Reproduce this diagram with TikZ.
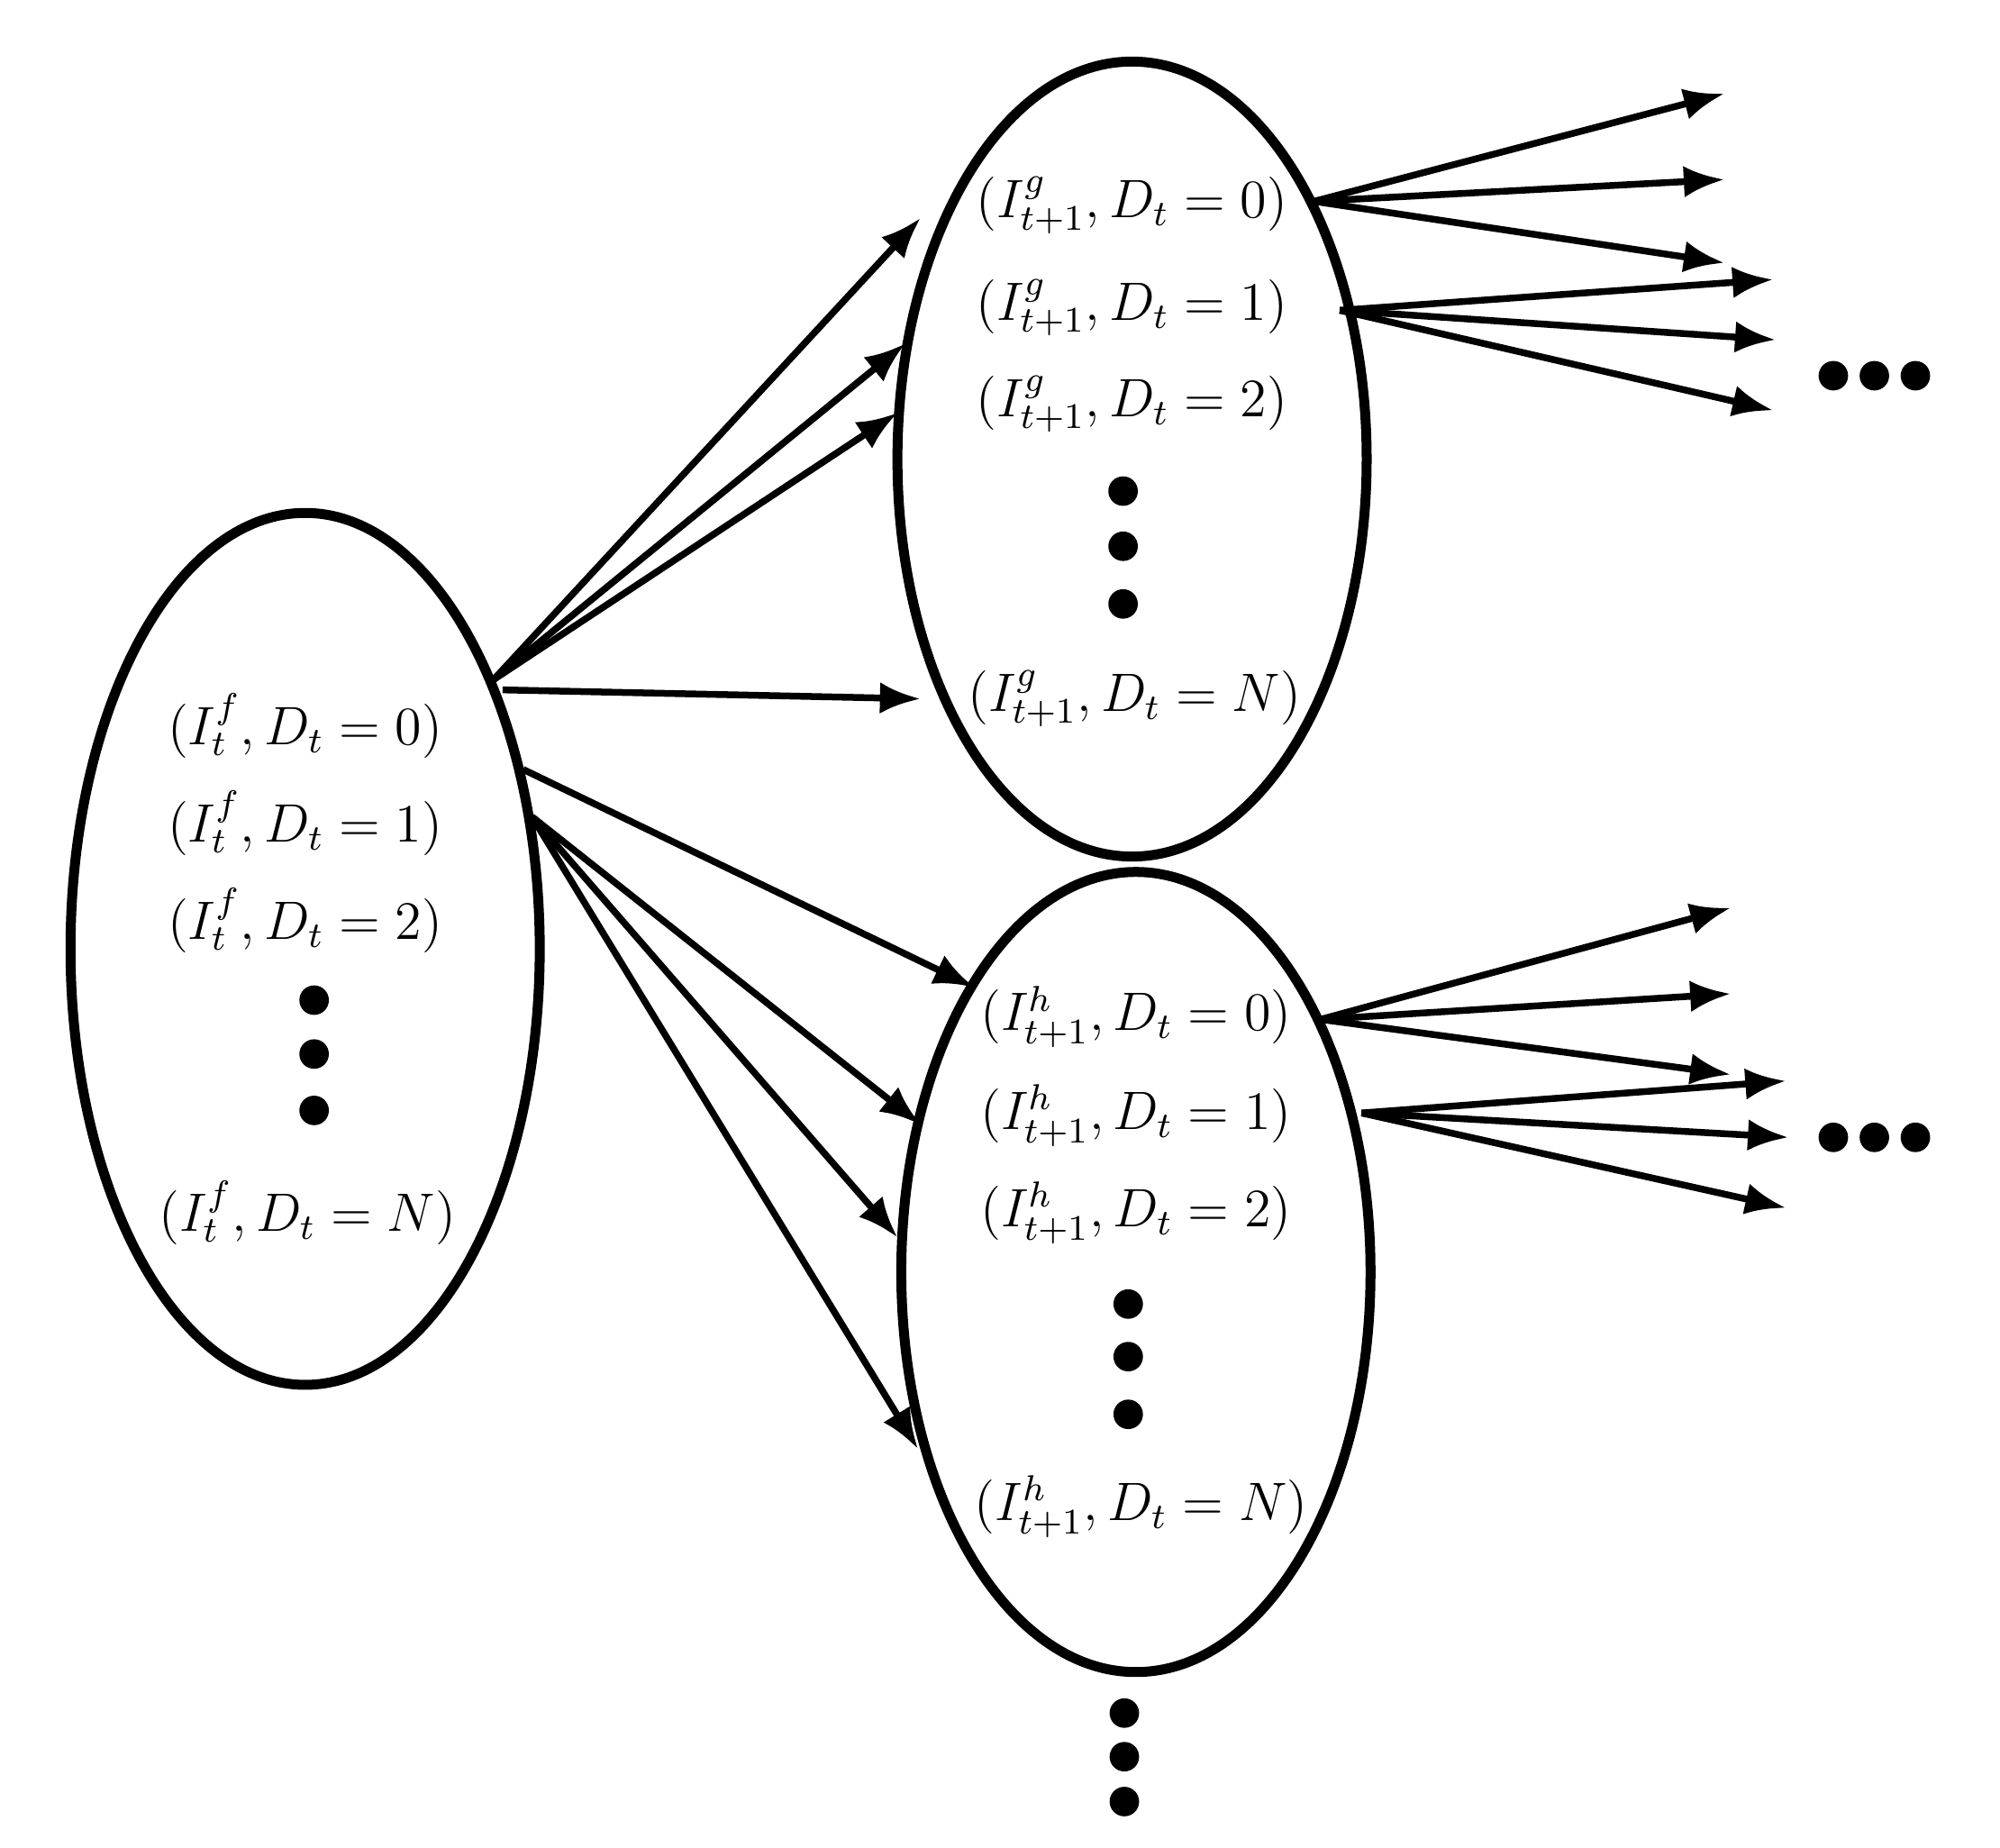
\documentclass[tikz,border=0pt]{standalone}
\usetikzlibrary{arrows.meta}
\begin{document}
\begin{tikzpicture}[x=0.01cm,y=-0.01cm,
  arr/.style={line width=1.5pt,-{Latex[length=9pt,width=7pt]}},
  dot/.style={circle,fill,inner sep=0pt,minimum size=0.23cm},
  lbl/.style={font=\large,inner sep=0pt}]
\useasboundingbox (0,0) rectangle (1560,1441);
\draw[line width=2.2pt] (238,740) ellipse [x radius=183,y radius=340];
\draw[line width=2.2pt] (883,358) ellipse [x radius=183,y radius=310];
\draw[line width=2.2pt] (886,992) ellipse [x radius=183,y radius=312];
% left labels
\node[lbl] (f0) at (238,566) {$(I_t^f,D_t=0)$};
\node[lbl] (f1) at (238,642) {$(I_t^f,D_t=1)$};
\node[lbl] (f2) at (238,718) {$(I_t^f,D_t=2)$};
\node[dot] (fd1) at (245,780) {};\node[dot] (fd2) at (245,822) {};\node[dot] (fd3) at (245,866) {};
\node[lbl] (fN) at (240,946) {$(I_t^f,D_t=N)$};
% g labels
\node[lbl] (g0) at (883,160) {$(I_{t+1}^g,D_t=0)$};
\node[lbl] (g1) at (883,240) {$(I_{t+1}^g,D_t=1)$};
\node[lbl] (g2) at (883,315) {$(I_{t+1}^g,D_t=2)$};
\node[dot] (gd1) at (876,383) {};\node[dot] (gd2) at (876,426) {};\node[dot] (gd3) at (876,471) {};
\node[lbl] (gN) at (885,545) {$(I_{t+1}^g,D_t=N)$};
% h labels
\node[lbl] (h0) at (886,793) {$(I_{t+1}^h,D_t=0)$};
\node[lbl] (h1) at (886,870) {$(I_{t+1}^h,D_t=1)$};
\node[lbl] (h2) at (886,946) {$(I_{t+1}^h,D_t=2)$};
\node[dot] (hd1) at (880,1017) {};\node[dot] (hd2) at (880,1058) {};\node[dot] (hd3) at (880,1103) {};
\node[lbl] (hN) at (890,1175) {$(I_{t+1}^h,D_t=N)$};
% other dots
\node[dot] (b1) at (877,1336) {};\node[dot] (b2) at (877,1370) {};\node[dot] (b3) at (877,1405) {};
\node[dot] (r1) at (1430,293) {};\node[dot] (r2) at (1462,293) {};\node[dot] (r3) at (1494,293) {};
\node[dot] (s1) at (1430,887) {};\node[dot] (s2) at (1462,887) {};\node[dot] (s3) at (1494,887) {};
% coordinates
\coordinate (a) at (385,530); \coordinate (a2) at (392,538);
\coordinate (b) at (408,600); \coordinate (c) at (415,637);
\coordinate (ga) at (1025,157); \coordinate (gb) at (1045,242);
\coordinate (ha) at (1030,795); \coordinate (hb) at (1062,868);
\foreach \n/\x/\y in {e1/718/170,e2/706/268,e3/700/322,e4/718/545,e5/760/770,e6/718/877,e7/700/965,e8/716/1130,
 p1/1345/73,p2/1345/140,p3/1345/205,p4/1383/218,p5/1385/265,p6/1383/320,
 q1/1350/708,q2/1350/775,q3/1350/838,q4/1393/843,q5/1395/887,q6/1393/942}
 {\coordinate (\n) at (\x,\y);}
\draw[arr] (a)--(e1); \draw[arr] (a)--(e2); \draw[arr] (a)--(e3); \draw[arr] (a2)--(e4);
\draw[arr] (b)--(e5); \draw[arr] (c)--(e6); \draw[arr] (c)--(e7); \draw[arr] (c)--(e8);
\draw[arr] (ga)--(p1); \draw[arr] (ga)--(p2); \draw[arr] (ga)--(p3);
\draw[arr] (gb)--(p4); \draw[arr] (gb)--(p5); \draw[arr] (gb)--(p6);
\draw[arr] (ha)--(q1); \draw[arr] (ha)--(q2); \draw[arr] (ha)--(q3);
\draw[arr] (hb)--(q4); \draw[arr] (hb)--(q5); \draw[arr] (hb)--(q6);
\end{tikzpicture}
\end{document}
